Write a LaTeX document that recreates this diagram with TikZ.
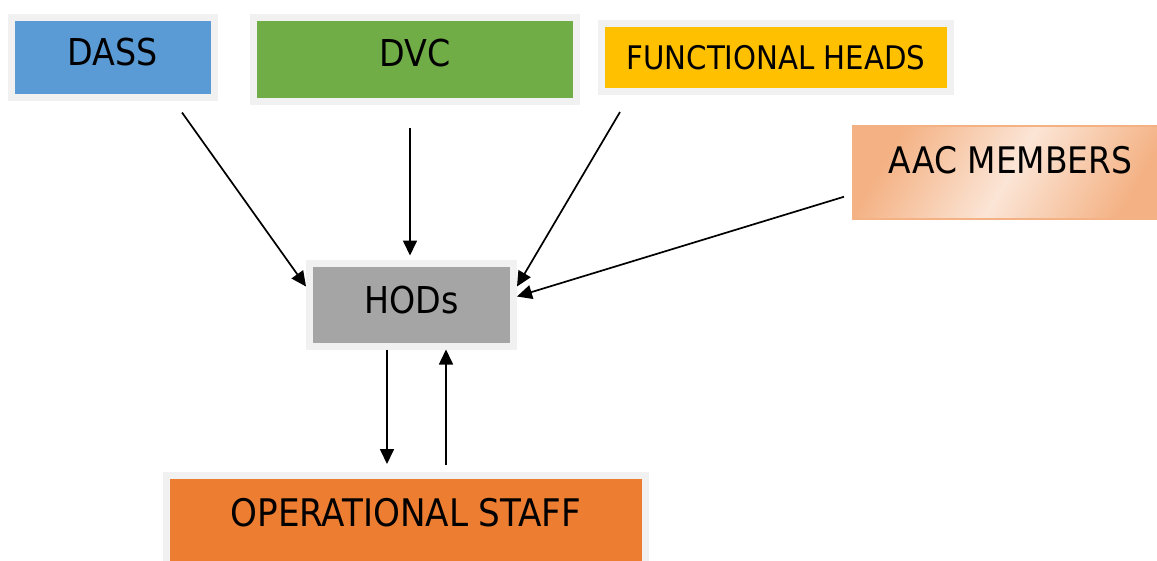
\documentclass[tikz,border=0pt]{standalone}
\usepackage{fontspec}
\setmainfont{DejaVu Sans Condensed}
\usetikzlibrary{arrows.meta,calc}

\definecolor{rimgray}{RGB}{241,241,241}
\definecolor{dassblue}{RGB}{91,155,213}
\definecolor{dvcgreen}{RGB}{112,173,71}
\definecolor{fhyellow}{RGB}{255,192,0}
\definecolor{hodgray}{RGB}{165,165,165}
\definecolor{opsorange}{RGB}{237,125,49}
\definecolor{aacdark}{RGB}{244,177,131}
\definecolor{aaclight}{RGB}{251,229,214}

\tikzset{
  rimbox/.style={draw=rimgray, line width=7pt, inner sep=0pt, anchor=north,
                 font=\fontsize{37}{40}\selectfont},
  rim/.style={draw=rimgray, line width=7pt, line join=miter},
  link/.style={line width=1.7pt, -{Triangle[length=15pt,width=14pt]}},
}

\begin{document}
\begin{tikzpicture}[x=1pt,y=-1pt]
\useasboundingbox (0,0) rectangle (1157,560);
\clip (0,0) rectangle (1157,560);

% top row
\node[rimbox, fill=dassblue, minimum width=203pt, text height=48pt, text depth=32pt]
  (dass) at (113,13.5) {DASS};
\node[rimbox, fill=dvcgreen, minimum width=323pt, text height=49pt, text depth=35pt]
  (dvc) at (415,13.5) {DVC};
\node[rimbox, fill=fhyellow, minimum width=349pt, text height=46pt, text depth=22pt,
      font=\fontsize{32.5}{34}\selectfont]
  (fh) at (776,20) {FUNCTIONAL HEADS};

% side box with diagonal gradient
\node[draw=aacdark, line width=1.5pt, inner sep=0pt, anchor=north west,
      left color=aacdark, right color=aacdark, middle color=aaclight, shading angle=60,
      minimum width=316pt, text height=48pt, text depth=45pt,
      font=\fontsize{36.6}{40}\selectfont]
  (aac) at (852,125) {AAC MEMBERS};

% middle box
\node[rimbox, fill=hodgray, minimum width=204pt, text height=50pt, text depth=33pt]
  (hod) at (411.5,259.5) {HODs};

% bottom box, running off the lower edge: rim on three sides only
\node[fill=opsorange, inner sep=0pt, outer sep=0pt, anchor=north,
      minimum width=472pt, text height=47pt, text depth=40pt,
      font=\fontsize{38}{40}\selectfont]
  (ops) at (406,479) {OPERATIONAL STAFF};
\draw[rim] ([xshift=-3.5pt]ops.south west) -- ([shift={(-3.5pt,3.5pt)}]ops.north west)
  -- ([shift={(3.5pt,3.5pt)}]ops.north east) -- ([xshift=3.5pt]ops.south east);

% connectors
\draw[link] ($(dass.south)+(69,12)$) -- ($(hod.west)+(0,-18)$);
\draw[link] ($(dvc.south)+(-5,23)$) -- ($(hod.north)+(-1.5,-4)$);
\draw[link] ($(fh.south)+(-156,17)$) -- ($(hod.east)+(0,-18)$);
\draw[link] ($(aac.west)+(-8,24.5)$) -- ($(hod.east)+(0,-8)$);
\draw[link] ($(hod.south)+(-24.5,0)$) -- ($(ops.north)+(-19,-15)$);
\draw[link] ($(ops.north)+(40,-14)$) -- ($(hod.south)+(34.5,0)$);
\end{tikzpicture}
\end{document}
